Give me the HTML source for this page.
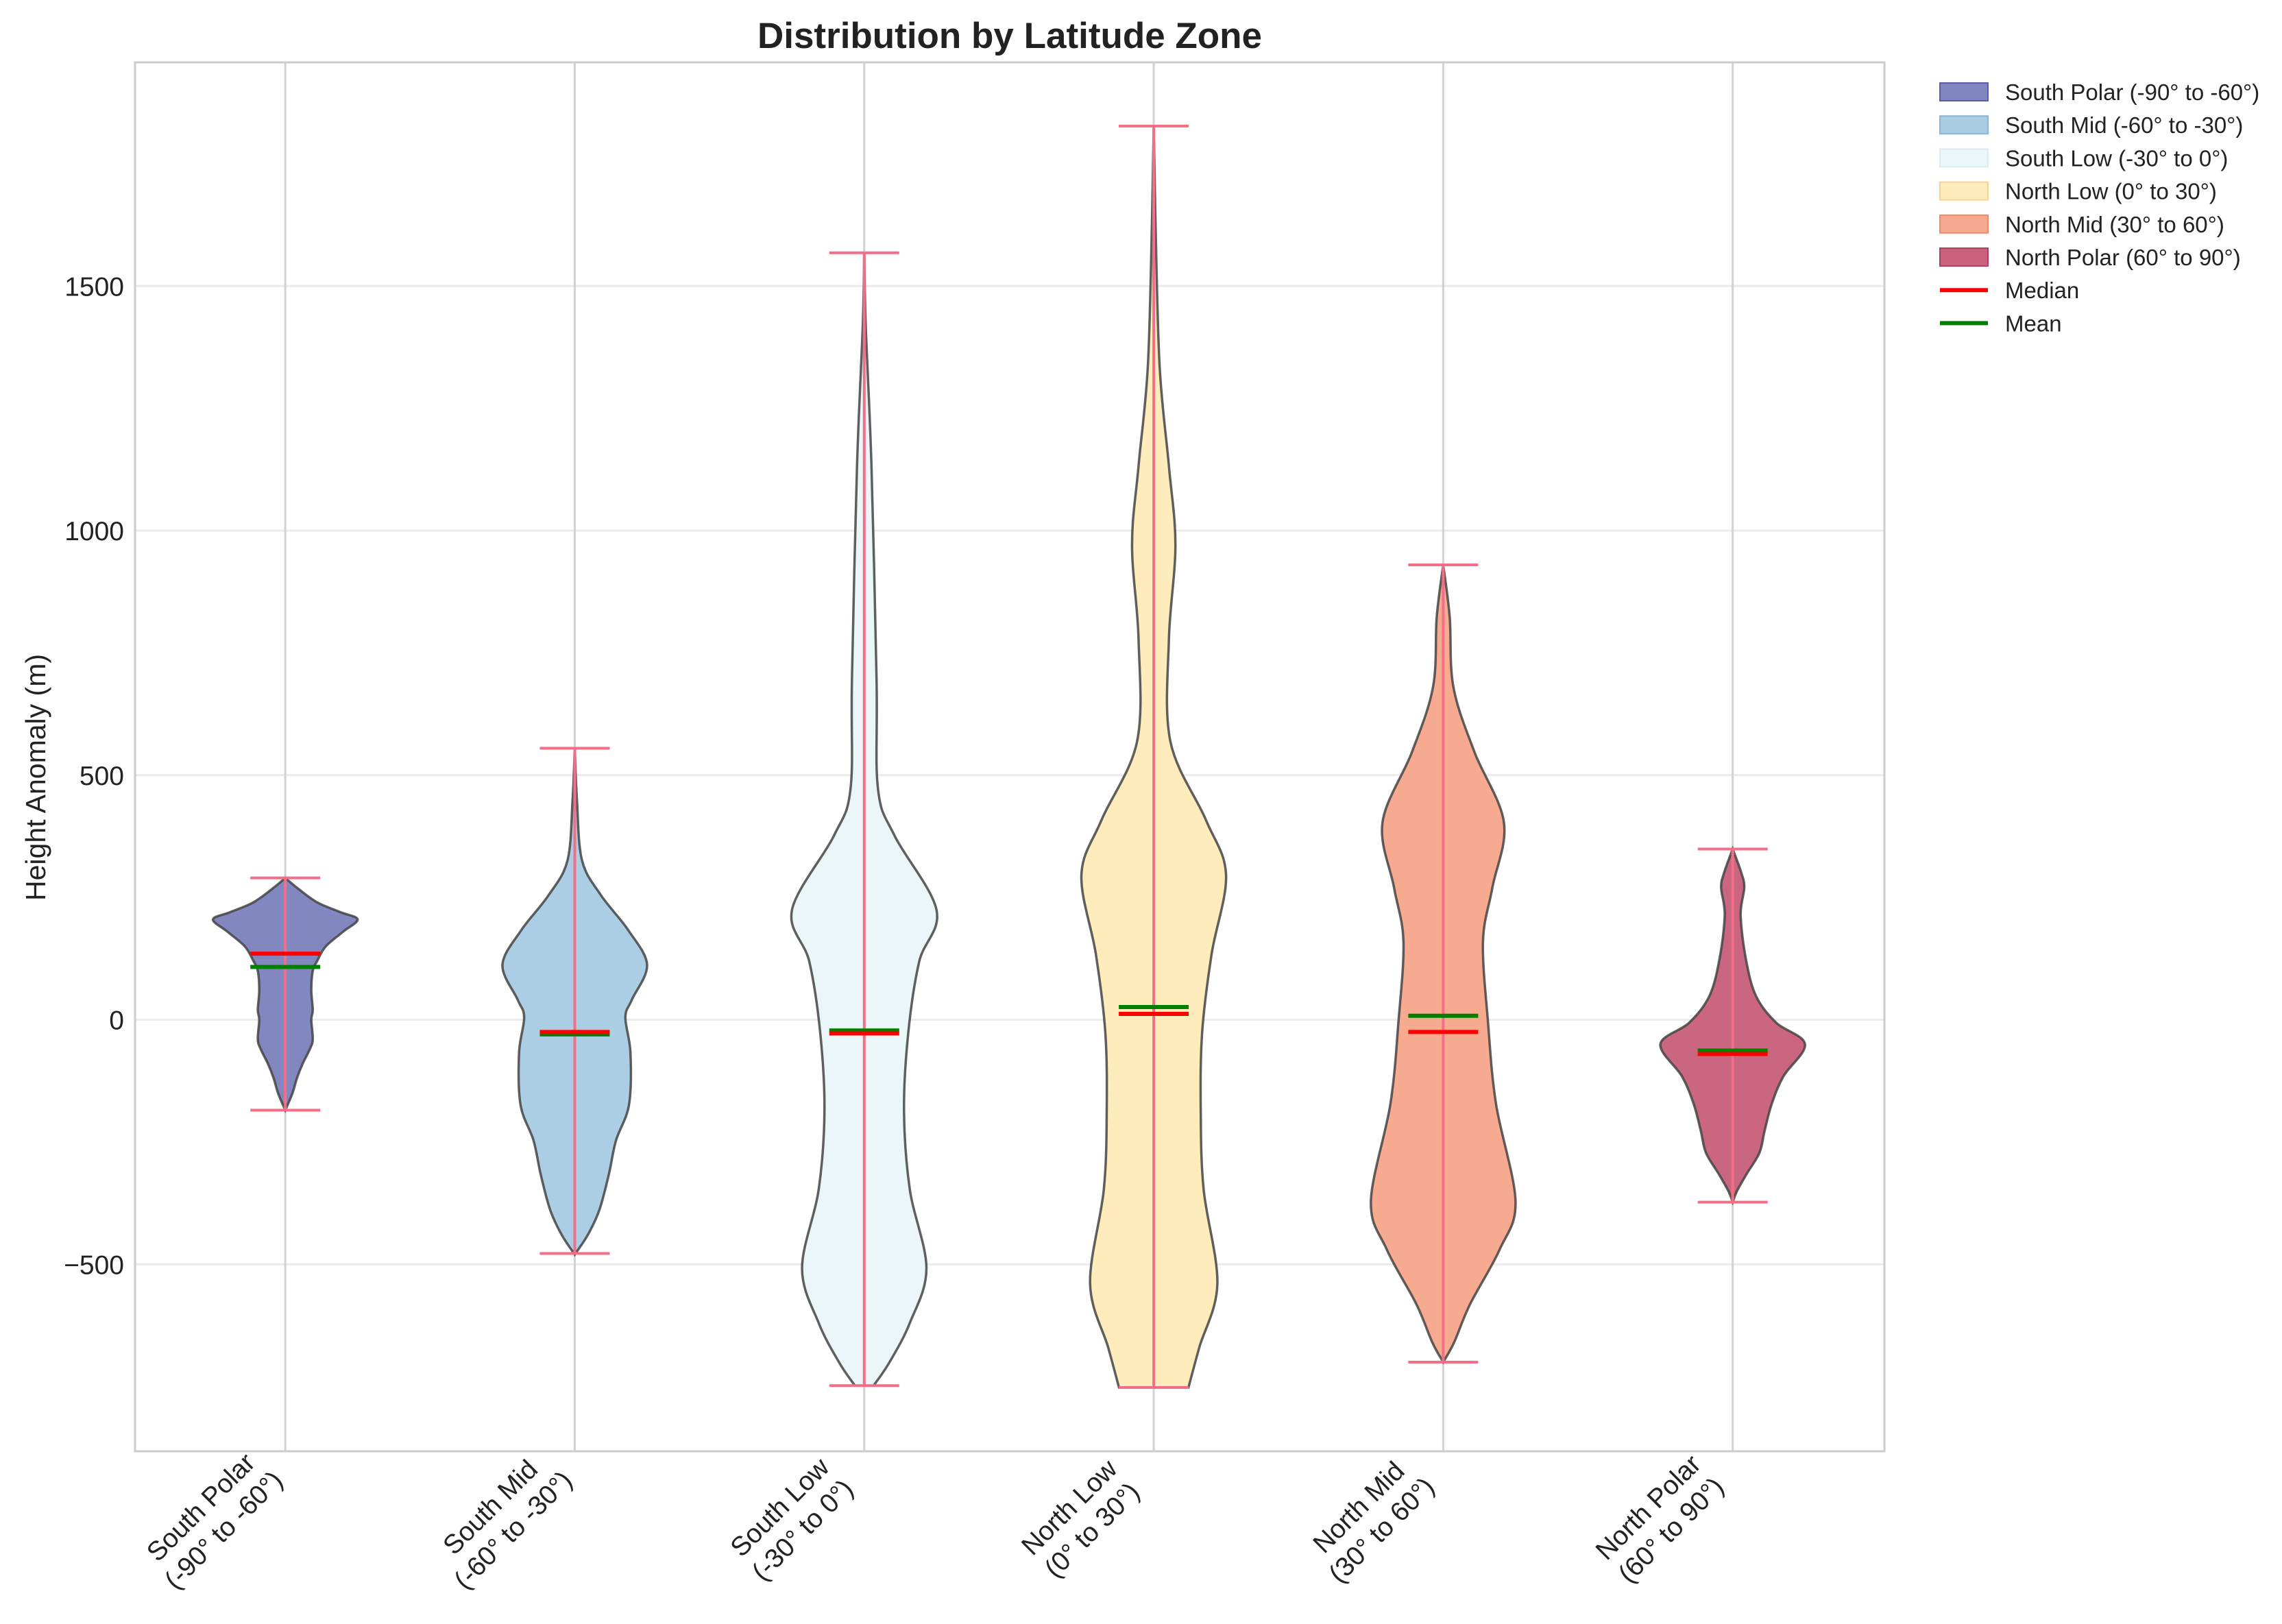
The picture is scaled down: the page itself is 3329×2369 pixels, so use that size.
<!DOCTYPE html>
<html><head><meta charset="utf-8"><style>
html,body{margin:0;padding:0;background:#fff;}
svg{display:block;font-family:"Liberation Sans",Arial,sans-serif;}
</style></head><body>
<svg id="chart" width="3329" height="2369" viewBox="0 0 3329 2369" xmlns="http://www.w3.org/2000/svg">
<rect x="0" y="0" width="3329" height="2369" fill="#fff"/>
<g id="grid"></g>
<g id="violins"></g>
<g id="stats"></g>
<rect x="197" y="91" width="2552" height="2026" fill="none" stroke="#cccccc" stroke-width="3"/>
<g id="yticks"></g>
<g id="xticks"></g>
<text x="1473" y="70" text-anchor="middle" font-size="53" font-weight="bold" fill="#222">Distribution by Latitude Zone</text>
<text transform="translate(66,1134) rotate(-90)" text-anchor="middle" font-size="41" fill="#222">Height Anomaly (m)</text>
<g id="legend"></g>
</svg>
<script>
const categories = ["South Polar|(-90° to -60°)","South Mid|(-60° to -30°)","South Low|(-30° to 0°)","North Low|(0° to 30°)","North Mid|(30° to 60°)","North Polar|(60° to 90°)"];
const legendLabels = ["South Polar (-90° to -60°)","South Mid (-60° to -30°)","South Low (-30° to 0°)","North Low (0° to 30°)","North Mid (30° to 60°)","North Polar (60° to 90°)"];
const fills = ["#8185bf","#aacde3","#eaf6f8","#feecbc","#f6a88e","#c9637c"];
const edges = ["#5a5ea8","#88b8d8","#d8ecf2","#f5d690","#ee8a6a","#b04060"];
const yTicks = [-500,0,500,1000,1500];
const yTickLabels = ["\u2212500","0","500","1000","1500"];
const mins = [-185,-478,-748,-752,-700,-373];
const maxs = [290,555,1568,1827,930,349];
const medians = [135,-25,-28,12,-25,-70];
const means = [108,-30,-22,26,8,-63];
// density profiles: values and relative half-widths
const prof0V = [290,270,240,220,205,180,150,120,100,60,20,0,-40,-60,-90,-120,-150,-185];
const prof0W = [0,0.16,0.44,0.76,1.0,0.8,0.56,0.44,0.38,0.36,0.38,0.36,0.38,0.34,0.24,0.16,0.1,0];
const prof1V = [555,450,326,255,183,112,41,5,-67,-174,-247,-317,-389,-440,-480];
const prof1W = [0,0.03,0.1,0.36,0.74,1.0,0.79,0.7,0.77,0.75,0.57,0.47,0.34,0.18,0];
const prof2V = [1568,1421,1132,697,472,376,224,119,-25,-186,-347,-508,-620,-700,-748];
const prof2W = [0,0.02,0.1,0.17,0.19,0.42,1.0,0.76,0.61,0.55,0.63,0.86,0.63,0.35,0.13];
const prof3V = [1827,1662,1340,1132,970,778,569,409,296,134,-25,-186,-347,-540,-670,-752];
const prof3W = [0,0.02,0.08,0.21,0.3,0.21,0.23,0.72,1.0,0.8,0.67,0.65,0.69,0.88,0.63,0.48];
const prof4V = [930,823,681,548,403,270,160,-6,-172,-371,-470,-582,-660,-700];
const prof4W = [0,0.09,0.14,0.43,0.84,0.68,0.55,0.62,0.73,1.0,0.78,0.37,0.15,0];
const prof5V = [349,300,270,215,126,49,-6,-50,-116,-172,-228,-272,-316,-350,-373];
const prof5W = [0,0.12,0.16,0.11,0.18,0.32,0.6,1.0,0.7,0.54,0.44,0.37,0.19,0.06,0];

const profV=[prof0V,prof1V,prof2V,prof3V,prof4V,prof5V];
const profW=[prof0W,prof1W,prof2W,prof3W,prof4W,prof5W];
const NS="http://www.w3.org/2000/svg";
const L=197,R=2749,T=91,B=2117;
const xScale=i=>197+((i+1)-0.481)*422.3;
const yScale=v=>1487.5-v*0.7135;
const HW=105.5, CAP=51;
function mk(tag,attrs,parent){const e=document.createElementNS(NS,tag);for(const k in attrs)e.setAttribute(k,attrs[k]);parent.appendChild(e);return e;}
const grid=document.getElementById('grid');
yTicks.forEach((t,i)=>{
  const ln=mk('line',{x1:L,x2:R,y1:yScale(t),y2:yScale(t),stroke:'#ebebeb','stroke-width':3},grid);
  
  
  const tx=mk('text',{x:181,y:yScale(t)+14,'text-anchor':'end','font-size':39,fill:'#222'},document.getElementById('yticks'));
  tx.textContent=yTickLabels[i];
  
  
});
categories.forEach((c,i)=>{
  const x=xScale(i);
  const ln=mk('line',{x1:x,x2:x,y1:T,y2:B,stroke:'#d2d2d2','stroke-width':3},grid);
  
  
  const parts=c.split('|');
  const g=mk('text',{transform:`translate(${x-114},2208) rotate(-45)`,'text-anchor':'middle','font-size':39,fill:'#222'},document.getElementById('xticks'));
  
  
  const t1=mk('tspan',{x:0,y:0},g);t1.textContent=parts[0];
  const t2=mk('tspan',{x:0,y:47},g);t2.textContent=parts[1];
});
function smoothPath(pts){
  let d=`M${pts[0][0]},${pts[0][1]}`;
  for(let i=0;i<pts.length-1;i++){
    const p0=pts[Math.max(0,i-1)],p1=pts[i],p2=pts[i+1],p3=pts[Math.min(pts.length-1,i+2)];
    const c1=[p1[0]+(p2[0]-p0[0])/6,p1[1]+(p2[1]-p0[1])/6];
    const c2=[p2[0]-(p3[0]-p1[0])/6,p2[1]-(p3[1]-p1[1])/6];
    d+=` C${c1[0]},${c1[1]} ${c2[0]},${c2[1]} ${p2[0]},${p2[1]}`;
  }
  return d;
}
const vg=document.getElementById('violins');
const sg=document.getElementById('stats');
categories.forEach((c,i)=>{
  const x=xScale(i),V=profV[i],W=profW[i];
  const right=V.map((v,k)=>[x+W[k]*HW,yScale(v)]);
  const left=V.map((v,k)=>[x-W[k]*HW,yScale(v)]).reverse();
  let d=smoothPath(right)+' L'+left[0][0]+','+left[0][1]+' '+smoothPath(left).slice(1)+' Z';
  const p=mk('path',{d:d,fill:fills[i],'fill-opacity':0.98,stroke:'#444','stroke-width':3.5,'stroke-opacity':0.85},vg);
  
  
  const wc='#f26f87';
  const w=mk('line',{x1:x,x2:x,y1:yScale(maxs[i]),y2:yScale(mins[i]),stroke:wc,'stroke-width':4},sg);
  
  
  [maxs[i],mins[i]].forEach(v=>{
    const cp=mk('line',{x1:x-CAP,x2:x+CAP,y1:yScale(v),y2:yScale(v),stroke:wc,'stroke-width':4},sg);
    
    
  });
  const mn=mk('line',{x1:x-CAP,x2:x+CAP,y1:yScale(means[i]),y2:yScale(means[i]),stroke:'#008000','stroke-width':6},sg);
  
  
  const md=mk('line',{x1:x-CAP,x2:x+CAP,y1:yScale(medians[i]),y2:yScale(medians[i]),stroke:'#ff0000','stroke-width':6},sg);
  
  
});
const lg=document.getElementById('legend');
const rows=legendLabels.concat(["Median","Mean"]);
rows.forEach((lab,i)=>{
  const y=134+i*48.2;
  if(i<6){
    const r=mk('rect',{x:2830,y:y-13,width:70,height:26,fill:fills[i],stroke:edges[i],'stroke-width':2},lg);
    
    
  } else {
    const l=mk('line',{x1:2830,x2:2900,y1:y,y2:y,stroke:i===6?'#ff0000':'#008000','stroke-width':6},lg);
    
    
  }
  const t=mk('text',{x:2925,y:y+12,'font-size':33,fill:'#222'},lg);
  t.textContent=lab;
  
  
});
</script>
</body></html>
